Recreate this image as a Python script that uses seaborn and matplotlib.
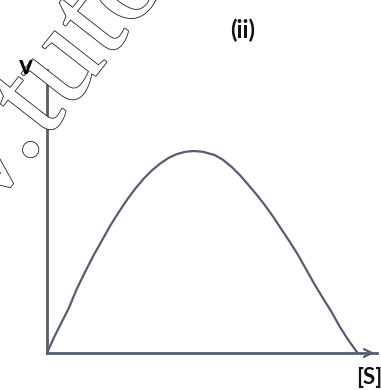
import numpy as np
import pandas as pd
import seaborn as sns
import matplotlib
matplotlib.use("Agg")
import matplotlib.pyplot as plt
import matplotlib.patheffects as pe

# Data (substrate concentration vs. velocity, arbitrary units)
substrate = [0.0, 0.0215, 0.043, 0.070, 0.096, 0.123, 0.150, 0.177, 0.204, 0.231,
             0.257, 0.284, 0.311, 0.338, 0.365, 0.391, 0.418, 0.445, 0.472, 0.502,
             0.539, 0.566, 0.593, 0.620, 0.646, 0.673, 0.700, 0.727, 0.754, 0.780,
             0.807, 0.834, 0.861, 0.887, 0.914, 0.941, 0.968, 0.995, 1.0]
velocity = [0.0, 0.074, 0.140, 0.222, 0.318, 0.403, 0.484, 0.558, 0.632, 0.698,
            0.758, 0.814, 0.863, 0.905, 0.939, 0.966, 0.985, 0.996, 1.0, 0.996,
            0.980, 0.956, 0.922, 0.881, 0.835, 0.786, 0.733, 0.675, 0.612, 0.552,
            0.486, 0.412, 0.338, 0.272, 0.206, 0.131, 0.066, 0.008, 0.0]
panel_label = "(ii)"
y_label = "v"
x_label = "[S]"
watermark = "v.tuto"

df = pd.DataFrame({"S": substrate, "v": velocity})

sns.set_style("white")
plt.rcParams["font.family"] = ["Lato", "DejaVu Sans"]

W, H = 381, 390
fig = plt.figure(figsize=(W / 100, H / 100), dpi=100)
fig.patch.set_facecolor("white")

# axes placement in pixels
x0_px, y0_px = 47.0, 353.0
px_per_x, px_per_y = 311.0, 202.0
right_px, top_px = 377.0, 70.0
xmax = (right_px - x0_px) / px_per_x
ymax = (y0_px - top_px) / px_per_y
ax = fig.add_axes([x0_px / W, (H - y0_px) / H, (right_px - x0_px) / W, (y0_px - top_px) / H])
ax.set_facecolor("none")

col = "#575d6e"

# watermark (outlined serif text)
fig.text(-9.7 / W, (H - 210.8) / H, watermark, rotation=52, rotation_mode="anchor",
         ha="left", va="baseline", fontsize=94, family="Liberation Serif",
         color="white", zorder=0,
         path_effects=[pe.withStroke(linewidth=1.2, foreground="#222222")])

sns.lineplot(data=df, x="S", y="v", ax=ax, color=col, linewidth=1.6, sort=False,
             estimator=None, zorder=3)

ax.set_xlim(0, xmax)
ax.set_ylim(0, ymax)
for s in ["top", "right"]:
    ax.spines[s].set_visible(False)
for s in ["left", "bottom"]:
    ax.spines[s].set_color(col)
    ax.spines[s].set_linewidth(2.0)
ax.set_xticks([])
ax.set_yticks([])
ax.set_xlabel("")
ax.set_ylabel("")

# arrow heads
ax.annotate("", xy=(1.0, 0), xytext=(0.97, 0), xycoords="axes fraction",
            arrowprops=dict(arrowstyle="->", color=col, lw=1.6, mutation_scale=14),
            annotation_clip=False)
ax.annotate("", xy=(0, 1.0), xytext=(0, 0.97), xycoords="axes fraction",
            arrowprops=dict(arrowstyle="->", color=col, lw=1.4, mutation_scale=10),
            annotation_clip=False)

fig.text(26 / W, (H - 66) / H, y_label, ha="center", va="center", fontsize=19,
         fontweight="bold", color="black")
fig.text(369 / W, (H - 377) / H, x_label, ha="center", va="center", fontsize=16,
         fontweight="bold", color="#111111")
fig.text(243 / W, (H - 30) / H, panel_label, ha="center", va="center", fontsize=17,
         fontweight="bold", color="#111111")

fig.savefig("out.png", dpi=100, facecolor="white")
